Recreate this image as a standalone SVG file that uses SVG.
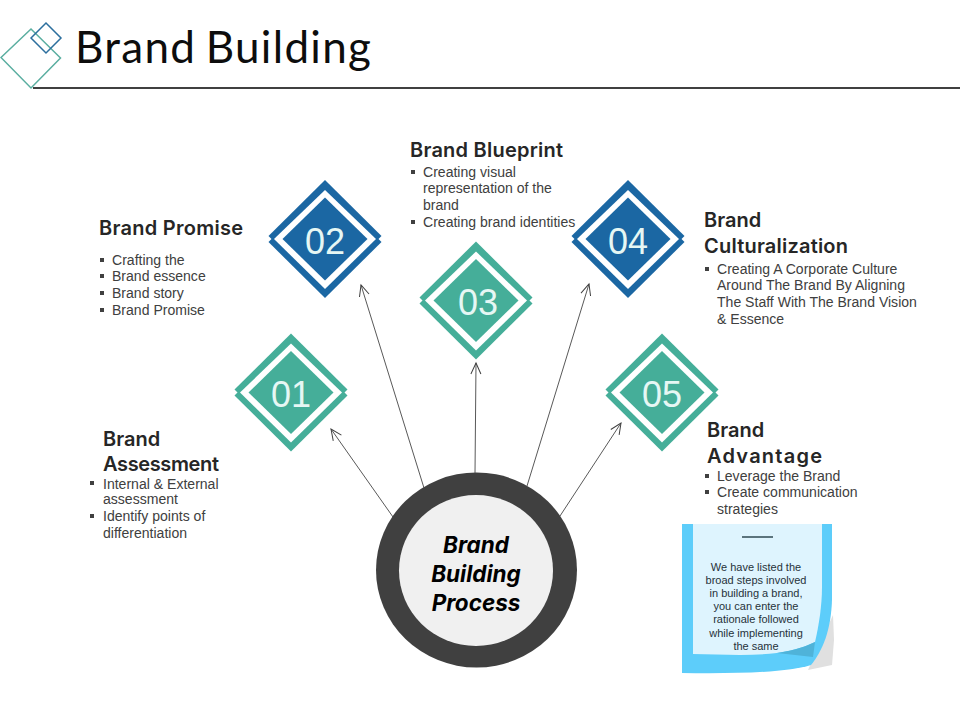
<svg xmlns="http://www.w3.org/2000/svg" width="960" height="720" viewBox="0 0 960 720">
<style>
.h{font-family:"Inter","Liberation Sans",sans-serif;font-weight:600;font-size:20px;fill:#262626}
.b{font-family:"Liberation Sans",Arial,sans-serif;font-size:14.05px;fill:#404040}
.n{font-family:"Liberation Sans",Arial,sans-serif;font-size:36px;fill:#e6f7f4;text-anchor:middle}
.s{font-family:"Liberation Sans",Arial,sans-serif;font-size:11px;fill:#26323a;text-anchor:middle}
.c{font-family:"Inter","Liberation Sans",sans-serif;font-weight:700;font-style:italic;font-size:22.5px;fill:#000;text-anchor:middle}
.teal{fill:#45ae99}.blue{fill:#1b67a3}
.ln{stroke:#595959;stroke-width:1;fill:none;marker-end:url(#a)}
</style>
<defs>
<marker id="a" markerUnits="userSpaceOnUse" markerWidth="14" markerHeight="14" refX="12" refY="6" orient="auto"><path d="M1 1L12 6L1 11" fill="none" stroke="#404040" stroke-width="1"/></marker>
<g id="dia">
<path d="M-56.5-3L0-59L56.5-3L0 53Z"/>
<path d="M-56.5 3L0-53L56.5 3L0 59Z"/>
<path d="M-51 0L0-49L51 0L0 50Z" fill="#fff"/>
<path d="M-42.5 0L0-41.5L42.5 0L0 41.5Z"/>
</g>
</defs>
<rect width="960" height="720" fill="#fff"/>
<g id="header">
<path d="M1 57.500L31 29L60.500 58L31 88Z" fill="none" stroke="#5aaea0" stroke-width="1.500"/>
<path d="M31 38L46 23L61 38L46 53Z" fill="none" stroke="#2c6f9e" stroke-width="1.500"/>
<path d="M33 88H960" stroke="#404040" stroke-width="1.800"/>
<text x="75" y="63" font-family="Lato,'Liberation Sans',sans-serif" font-weight="400" font-size="44" letter-spacing="1.300" word-spacing="-3" fill="#0d0d0d">Brand Building</text>
</g>
<g id="connectors">
<path class="ln" d="M393 517L331 429"/>
<path class="ln" d="M424 488L361 285"/>
<path class="ln" d="M475 473L476 363"/>
<path class="ln" d="M527 486L589 284"/>
<path class="ln" d="M560 516L621 423"/>
</g>
<g id="hub">
<ellipse cx="476.500" cy="570" rx="100.500" ry="97.500" fill="#404040"/>
<ellipse cx="476" cy="570.500" rx="77" ry="75.500" fill="#f0f0f0"/>
<text class="c" x="476" y="553">Brand</text>
<text class="c" x="476" y="582">Building</text>
<text class="c" x="476" y="611">Process</text>
</g>
<g id="n01">
<use href="#dia" class="teal" x="291" y="392.500"/>
<text class="n" x="291" y="407">01</text>
<text class="h" x="103" y="446">Brand</text>
<text class="h" x="103" y="471" textLength="116" lengthAdjust="spacing">Assessment</text>
<text class="b" x="103" y="489">Internal &amp; External</text>
<text class="b" x="103" y="504">assessment</text>
<text class="b" x="103" y="521">Identify points of</text>
<text class="b" x="103" y="538">differentiation</text>
<rect x="90" y="481" width="4" height="4" fill="#404040"/>
<rect x="90" y="514" width="4" height="4" fill="#404040"/>
</g>
<g id="n02">
<use href="#dia" class="blue" x="325" y="239"/>
<text class="n" x="325" y="254">02</text>
<text class="h" x="99" y="235" textLength="144" lengthAdjust="spacing">Brand Promise</text>
<text class="b" x="112" y="265">Crafting the</text>
<text class="b" x="112" y="281">Brand essence</text>
<text class="b" x="112" y="298">Brand story</text>
<text class="b" x="112" y="315">Brand Promise</text>
<rect x="100" y="258" width="4" height="4" fill="#404040"/>
<rect x="100" y="274" width="4" height="4" fill="#404040"/>
<rect x="100" y="291" width="4" height="4" fill="#404040"/>
<rect x="100" y="308" width="4" height="4" fill="#404040"/>
</g>
<g id="n03">
<use href="#dia" class="teal" x="476" y="300.500"/>
<text class="n" x="478" y="315">03</text>
<text class="h" x="410" y="157" textLength="153" lengthAdjust="spacing">Brand Blueprint</text>
<text class="b" x="423" y="177">Creating visual</text>
<text class="b" x="423" y="193">representation of the</text>
<text class="b" x="423" y="210">brand</text>
<text class="b" x="423" y="227">Creating brand identities</text>
<rect x="411" y="170" width="4" height="4" fill="#404040"/>
<rect x="411" y="220" width="4" height="4" fill="#404040"/>
</g>
<g id="n04">
<use href="#dia" class="blue" x="628" y="239"/>
<text class="n" x="628" y="254">04</text>
<text class="h" x="704" y="227">Brand</text>
<text class="h" x="704" y="253" textLength="144" lengthAdjust="spacing">Culturalization</text>
<text class="b" x="717" y="274">Creating A Corporate Culture</text>
<text class="b" x="717" y="290">Around The Brand By Aligning</text>
<text class="b" x="717" y="307">The Staff With The Brand Vision</text>
<text class="b" x="717" y="324">&amp; Essence</text>
<rect x="705" y="267" width="4" height="4" fill="#404040"/>
</g>
<g id="n05">
<use href="#dia" class="teal" x="662" y="392.500"/>
<text class="n" x="662" y="407">05</text>
<text class="h" x="707" y="437">Brand</text>
<text class="h" x="707" y="463" textLength="115" lengthAdjust="spacing">Advantage</text>
<text class="b" x="717" y="481">Leverage the Brand</text>
<text class="b" x="717" y="497">Create communication</text>
<text class="b" x="717" y="514">strategies</text>
<rect x="705" y="474" width="4" height="4" fill="#404040"/>
<rect x="705" y="490" width="4" height="4" fill="#404040"/>
</g>
<g id="note">
<path d="M833 615L834 640L832 665L808 670Z" fill="#e0e0e0"/>
<path d="M682 524H832V600C831 630 823 650 811 665C790 672 740 674 682 673Z" fill="#5dcdfa"/>
<path d="M693 524H822V587C822 605 819 625 815 642C795 652 770 655 740 655L693 654Z" fill="#def4fe"/>
<path d="M815 642L813 657L777 653C790 651 803 648 815 642Z" fill="#4fb3d9"/>
<path d="M742 537H773" stroke="#2f4a52" stroke-width="1.500"/>
<text class="s" x="756" y="571">We have listed the</text>
<text class="s" x="756" y="584">broad steps involved</text>
<text class="s" x="756" y="597">in building a brand,</text>
<text class="s" x="756" y="610">you can enter the</text>
<text class="s" x="756" y="623">rationale followed</text>
<text class="s" x="756" y="637">while implementing</text>
<text class="s" x="756" y="650">the same</text>
</g>
</svg>
